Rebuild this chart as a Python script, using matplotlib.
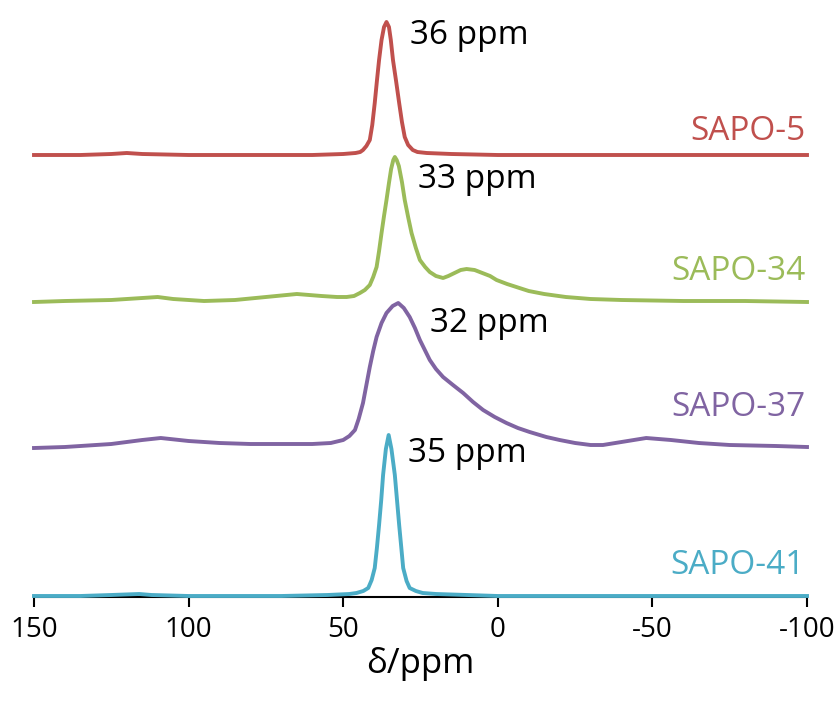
import matplotlib
matplotlib.use("Agg")
import matplotlib.pyplot as plt

# chemical shift (ppm) and intensity (a.u.)
ppm_sapo5 = [150, 135, 125, 120, 115, 100, 80, 60, 50, 46, 44.5, 43.6, 42.5, 41.4, 40.6, 39.8, 39.1, 38.4,
             37.6, 36.8, 36, 35.2, 34.6, 33.9, 32.9, 31.9, 31, 30.1, 29, 27.5, 26, 23, 15, 0, -50, -100]
int_sapo5 = [0, 0, 1, 2, 1, 0, 0, 0, 1, 2, 3, 5, 9, 15, 30, 52, 74, 95,
             115, 128, 133, 128, 115, 95, 74, 52, 33, 18, 10, 5, 3, 2, 1, 0, 0, 0]

ppm_sapo34 = [150, 140, 125, 115, 110, 105, 95, 85, 75, 65, 57, 52, 48.9, 46.5, 44.6, 43, 41.4, 40.3,
              39.2, 38.4, 37.6, 36.8, 36, 35.2, 34.5, 33.8, 33.3, 32.7, 32, 31, 30.1, 29, 27.9, 26.5,
              25.2, 23.5, 22, 20, 17.7, 16, 14, 12, 10.1, 7.5, 5, 2.5, 0.4, -3, -6, -10, -15, -22, -30,
              -40, -60, -80, -100]
int_sapo34 = [-1, 0, 1, 3, 4, 2, 0, 1, 4, 7, 5, 4, 4, 5, 8, 11, 16, 24,
              34, 50, 68, 85, 101, 118, 132, 141, 144, 141, 135, 119, 101, 84, 68, 53,
              41, 34, 29, 25, 23, 25, 28, 31, 32, 31, 28, 25, 21, 17, 14, 10, 7, 4, 2,
              1, 0, 0, -1]

ppm_sapo37 = [150, 140, 125, 115, 109, 100, 90, 80, 70, 60, 54, 50, 48, 46.2, 45, 43.6, 42.5, 41.4, 40.3,
              39.2, 37.6, 36, 34, 32.2, 30.4, 28.5, 26.8, 25.2, 23.6, 22, 20, 17.7, 14.5, 11.2, 8, 4.75,
              1, -2.8, -6.5, -10.3, -15.7, -20, -25, -30, -34, -40, -48, -56, -65, -75, -90, -100]
int_sapo37 = [-1, 0, 3, 7, 9, 6, 4, 3, 3, 3, 4, 7, 11, 17, 28, 44, 62, 80, 96,
              110, 124, 134, 141, 144, 139, 130, 119, 107, 97, 87, 78, 70, 62, 54, 45, 37,
              30, 24, 19, 15, 10, 7, 4, 2, 2, 5, 9, 7, 4, 2, 1, 0]

ppm_sapo41 = [150, 135, 125, 116, 112, 100, 70, 55, 48, 45.7, 43.5, 41.9, 40.8, 39.8, 39.1, 38.4, 37.7,
              37.1, 36.2, 35.3, 34.4, 33.3, 32.6, 31.9, 31.2, 30.6, 29.5, 28.5, 26.5, 24.3, 20, 10, 0,
              -50, -100]
int_sapo41 = [0, 0, 1, 2, 1, 0, 0, 1, 2, 3, 5, 8, 16, 28, 48, 71, 96,
              121, 147, 161, 147, 121, 96, 71, 48, 28, 15, 8, 5, 3, 2, 1, 0,
              0, 0]

names = ["SAPO-5", "SAPO-34", "SAPO-37", "SAPO-41"]
peak_labels = ["36 ppm", "33 ppm", "32 ppm", "35 ppm"]
xticks = [150, 100, 50, 0, -50, -100]

series = [(ppm_sapo5, int_sapo5), (ppm_sapo34, int_sapo34),
          (ppm_sapo37, int_sapo37), (ppm_sapo41, int_sapo41)]
colors = ["#C0504D", "#9BBB59", "#8064A2", "#4BACC6"]
offsets = [442, 296, 150, 1]
name_y = [466, 325, 189, 32]
peak_xy = [(28.5, 561), (25.9, 417), (22.0, 274), (29.1, 144)]

plt.rcParams['font.family'] = ['Open Sans', 'DejaVu Sans']

fig = plt.figure(figsize=(8.39, 7.04), dpi=100)
ax = fig.add_axes([34/839, 1-597/704, 773/839, 597/704])

for (x, y), c, off in zip(series, colors, offsets):
    ax.plot(x, [v + off for v in y], color=c, lw=2.8, clip_on=False, zorder=3,
            solid_joinstyle='round')

for nm, c, ny in zip(names, colors, name_y):
    ax.text(-99.4, ny, nm, color=c, fontsize=24, ha='right', va='center')
for lab, (px, py) in zip(peak_labels, peak_xy):
    ax.text(px, py, lab, color='black', fontsize=24, ha='left', va='center')

ax.set_xlim(150, -100)
ax.set_ylim(0, 597)
ax.set_xticks(xticks)
ax.set_xticklabels([str(t) for t in xticks], fontsize=20)
ax.set_yticks([])
for s in ['top', 'left', 'right']:
    ax.spines[s].set_visible(False)
ax.spines['bottom'].set_linewidth(1.5)
ax.tick_params(axis='x', direction='out', length=7, width=1.5, pad=7)
ax.set_xlabel("δ/ppm", fontsize=25, labelpad=2)

fig.savefig("out.png", dpi=100)
